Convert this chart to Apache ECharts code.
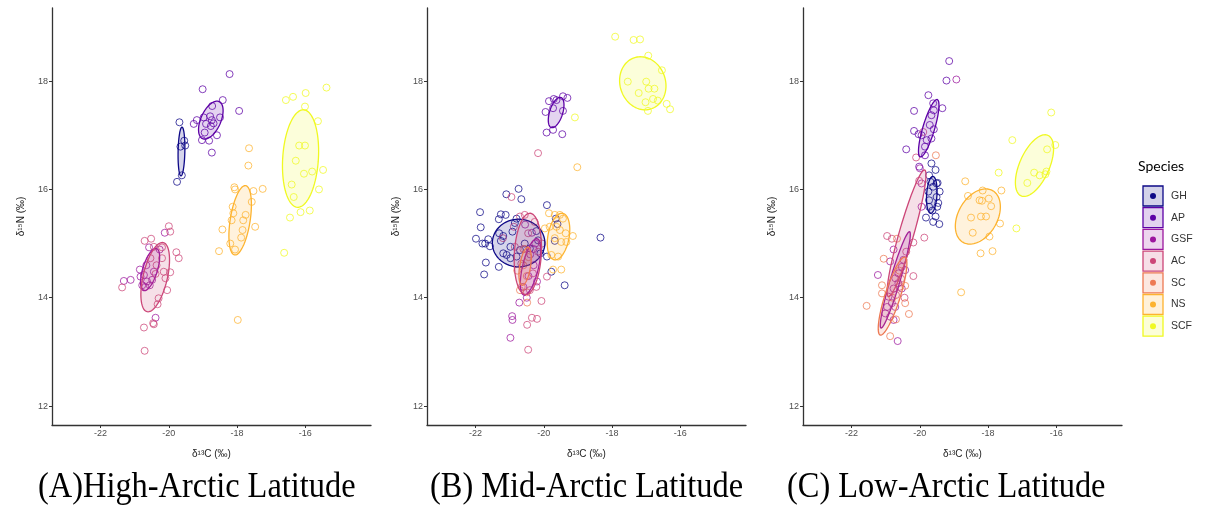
<!DOCTYPE html>
<html><head><meta charset="utf-8">
<script src="https://cdn.jsdelivr.net/npm/echarts@6/dist/echarts.min.js"></script>
<style>html,body{margin:0;padding:0;background:#fff}#c{width:1207px;height:506px}</style>
</head><body><div id="c"></div>
<script>
const species = ['GH','AP','GSF','AC','SC','NS','SCF'];
const colors = ['#0D0887','#5D01A6','#9C179E','#CC4678','#ED7953','#FDB32F','#F0F921'];
const xTicks = [-22,-20,-18,-16];
const yTicks = [12,14,16,18];
const captions = ['(A)High-Arctic Latitude','(B) Mid-Arctic Latitude','(C) Low-Arctic Latitude'];

// ---------- Panel A (High-Arctic) ----------
const A_GH = [[-19.69,17.24],[-19.66,16.79],[-19.55,16.90],[-19.52,16.81],[-19.62,16.26],[-19.76,16.14]];
const A_AP = [[-18.22,18.13],[-19.01,17.85],[-18.42,17.65],[-17.94,17.45],[-18.73,17.54],[-19.27,17.21],[-19.18,17.28],[-18.98,17.33],[-18.91,17.21],[-18.79,17.35],[-18.74,17.28],[-18.77,17.17],[-18.50,17.33],[-18.59,17.00],[-19.03,16.91],[-18.82,16.90],[-18.74,16.68],[-18.95,17.05],[-18.69,17.22]];
const A_GSF = [[-20.12,15.20],[-20.58,14.93],[-20.85,14.52],[-21.32,14.31],[-21.12,14.33],[-20.73,14.42],[-20.64,14.30],[-20.49,14.33],[-20.78,14.23],[-20.69,14.20],[-20.56,14.23],[-20.44,14.48],[-20.39,13.63],[-20.83,14.39],[-20.66,14.60],[-20.27,14.89]];
const A_AC = [[-20.00,15.32],[-19.96,15.22],[-20.71,15.05],[-20.52,15.09],[-20.44,14.94],[-20.20,14.93],[-19.78,14.84],[-19.71,14.73],[-20.54,14.73],[-20.20,14.73],[-19.96,14.47],[-20.15,14.48],[-20.10,14.36],[-20.05,14.14],[-20.30,13.99],[-20.33,13.88],[-20.39,14.44],[-20.36,14.60],[-21.37,14.19],[-20.73,13.45],[-20.44,13.51],[-20.71,13.02],[-20.46,13.53]];
const A_SC = [];
const A_NS = [[-17.65,16.76],[-17.67,16.44],[-18.08,16.04],[-18.06,16.00],[-17.52,15.97],[-17.25,16.01],[-18.13,15.68],[-18.11,15.56],[-17.57,15.77],[-18.16,15.43],[-17.82,15.43],[-17.75,15.53],[-17.84,15.25],[-17.88,15.11],[-17.47,15.31],[-18.43,15.26],[-18.20,15.00],[-18.06,14.89],[-18.53,14.86],[-17.98,13.59]];
const A_SCF = [[-15.38,17.88],[-15.99,17.78],[-16.36,17.71],[-16.57,17.65],[-16.01,17.53],[-15.63,17.26],[-16.18,16.81],[-16.01,16.81],[-16.28,16.53],[-15.48,16.36],[-15.80,16.33],[-16.04,16.29],[-16.40,16.09],[-16.34,15.86],[-15.60,16.00],[-15.87,15.61],[-16.14,15.58],[-16.45,15.48],[-16.62,14.83]];
// ellipse: [centre x, centre y, half-spread x, half-spread y, correlation]
const A_ellipses = [[-19.63,16.70,0.10,0.45,0.15],[-18.77,17.28,0.36,0.35,0.5],[-20.55,14.52,0.28,0.39,0.6],[-20.40,14.38,0.42,0.64,0.5],null,[-17.91,15.43,0.33,0.64,0.45],[-16.14,16.57,0.53,0.90,0.15]];

// ---------- Panel B (Mid-Arctic) ----------
const B_GH = [[-20.74,16.01],[-21.10,15.91],[-20.66,15.82],[-21.87,15.58],[-21.26,15.54],[-21.12,15.53],[-21.32,15.45],[-21.85,15.30],[-21.99,15.09],[-21.80,15.00],[-21.72,15.00],[-21.63,15.08],[-21.58,14.95],[-21.26,15.05],[-21.19,15.14],[-20.92,15.22],[-20.85,15.38],[-20.80,15.46],[-19.91,15.71],[-19.65,15.46],[-19.60,15.36],[-19.68,15.05],[-19.91,14.76],[-21.70,14.65],[-21.32,14.57],[-21.75,14.43],[-21.19,14.82],[-21.09,14.79],[-20.98,14.73],[-20.80,14.76],[-20.70,14.88],[-20.56,15.00],[-20.22,15.23],[-20.17,15.06],[-20.10,14.82],[-19.78,14.48],[-19.39,14.23],[-18.34,15.11],[-20.41,14.91],[-20.98,14.94],[-21.31,15.19]];
const B_AP = [[-19.85,17.63],[-19.71,17.67],[-19.44,17.72],[-19.31,17.69],[-19.95,17.43],[-19.73,17.50],[-19.44,17.45],[-19.92,17.05],[-19.73,17.10],[-19.46,17.02],[-19.63,17.65]];
const B_GSF = [[-20.35,15.20],[-20.25,15.00],[-20.40,14.80],[-20.30,14.60],[-20.45,14.40],[-20.20,14.30],[-20.60,14.20],[-20.50,14.00],[-20.30,14.90],[-20.72,13.91],[-20.93,13.66],[-20.92,13.59],[-20.98,13.26],[-20.55,15.35]];
const B_AC = [[-20.95,15.86],[-20.88,15.31],[-20.46,15.19],[-20.85,14.94],[-20.17,14.85],[-20.32,14.45],[-19.91,14.39],[-20.70,15.50],[-20.56,15.53],[-20.27,15.40],[-20.66,14.63],[-20.22,14.20],[-20.41,14.14],[-20.07,13.94],[-20.17,16.67],[-20.35,13.63],[-20.20,13.61],[-20.49,13.50],[-20.46,13.04],[-20.05,15.00],[-20.60,14.90],[-21.20,15.10]];
const B_SC = [[-20.55,14.90],[-20.60,14.60],[-20.50,14.40],[-20.65,14.20],[-20.78,14.50],[-20.50,14.10],[-20.45,14.75],[-20.70,14.14],[-20.49,13.91]];
const B_NS = [[-19.85,15.56],[-19.68,15.53],[-19.53,15.53],[-19.44,15.46],[-19.97,15.28],[-19.83,15.31],[-19.63,15.31],[-19.53,15.25],[-19.36,15.19],[-19.15,15.14],[-19.68,15.10],[-19.49,15.03],[-19.34,15.03],[-19.78,14.79],[-19.58,14.76],[-19.73,14.52],[-19.49,14.52],[-19.02,16.41]];
const B_SCF = [[-17.91,18.82],[-17.37,18.76],[-17.18,18.77],[-16.94,18.47],[-16.54,18.20],[-17.54,17.99],[-17.00,17.99],[-17.22,17.78],[-16.93,17.86],[-16.76,17.86],[-16.80,17.67],[-17.02,17.61],[-16.66,17.64],[-16.40,17.58],[-16.30,17.48],[-16.95,17.45],[-19.09,17.33]];
const B_ellipses = [[-20.74,15.01,0.77,0.44,0.0],[-19.64,17.42,0.23,0.28,0.5],[-20.39,14.57,0.30,0.52,0.6],[-20.47,14.81,0.40,0.75,0.15],[-20.55,14.58,0.18,0.35,0.45],[-19.57,15.13,0.33,0.43,0.3],[-17.10,17.96,0.68,0.49,-0.1]];

// ---------- Panel C (Low-Arctic) ----------
const C_GH = [[-19.73,16.26],[-19.54,16.36],[-19.66,16.48],[-19.51,16.11],[-19.69,16.14],[-19.61,16.05],[-19.48,16.12],[-19.42,15.96],[-19.75,15.96],[-19.51,15.86],[-19.73,15.80],[-19.46,15.75],[-19.49,15.68],[-19.73,15.68],[-19.63,15.61],[-19.54,15.50],[-19.82,15.48],[-19.61,15.40],[-19.43,15.36]];
const C_AP = [[-19.14,18.37],[-19.22,18.01],[-19.75,17.74],[-20.17,17.45],[-19.34,17.50],[-19.61,17.59],[-19.59,17.46],[-19.66,17.37],[-19.71,17.19],[-19.59,17.11],[-20.17,17.08],[-20.04,17.02],[-19.95,17.00],[-19.80,16.91],[-19.66,16.94],[-19.85,16.79],[-20.40,16.74],[-19.85,16.63],[-20.02,16.42]];
const C_GSF = [[-18.93,18.03],[-19.95,16.11],[-19.95,15.68],[-20.00,16.39],[-20.77,14.89],[-20.87,14.67],[-21.23,14.42],[-20.43,14.51],[-20.53,14.57],[-20.63,14.45],[-20.72,14.36],[-20.63,14.27],[-20.53,14.17],[-20.77,14.17],[-20.92,14.02],[-20.82,13.90],[-20.96,13.83],[-20.72,13.83],[-21.01,13.71],[-20.87,13.65],[-20.77,13.59],[-20.65,13.20],[-20.48,14.70]];
const C_AC = [[-20.96,15.14],[-20.82,15.09],[-19.87,15.11],[-20.19,14.40],[-20.11,16.59],[-19.90,17.06],[-20.19,15.02],[-20.60,14.20],[-20.45,14.00],[-20.55,14.35],[-20.02,16.16],[-20.40,14.85],[-20.70,14.05]];
const C_SC = [[-20.67,15.09],[-21.06,14.72],[-20.43,14.22],[-21.11,14.23],[-21.11,14.08],[-21.56,13.85],[-20.43,13.90],[-20.32,13.70],[-20.87,13.29],[-19.53,16.63],[-20.80,14.00],[-20.70,13.60],[-20.60,14.50]];
const C_NS = [[-18.67,16.15],[-18.59,15.88],[-18.16,15.98],[-18.25,15.80],[-18.18,15.79],[-17.98,15.83],[-17.91,15.69],[-17.61,15.98],[-18.50,15.48],[-18.21,15.50],[-18.06,15.50],[-18.45,15.20],[-17.96,15.13],[-17.65,15.37],[-18.22,14.82],[-17.87,14.86],[-18.79,14.10]];
const C_SCF = [[-16.15,17.42],[-16.03,16.82],[-16.27,16.74],[-17.29,16.91],[-17.69,16.31],[-16.65,16.31],[-16.49,16.26],[-16.32,16.28],[-16.29,16.33],[-16.85,16.12],[-17.17,15.28]];
const C_ellipses = [[-19.65,15.90,0.155,0.34,0.2],[-19.74,17.13,0.30,0.53,0.8],[-20.72,14.33,0.44,0.89,0.94],[-20.39,15.19,0.57,1.17,0.92],[-20.80,14.03,0.42,0.72,0.83],[-18.30,15.50,0.66,0.51,0.35],[-16.64,16.44,0.56,0.57,0.55]];

const panels = [
  {pts:[A_GH,A_AP,A_GSF,A_AC,A_SC,A_NS,A_SCF], ell:A_ellipses},
  {pts:[B_GH,B_AP,B_GSF,B_AC,B_SC,B_NS,B_SCF], ell:B_ellipses},
  {pts:[C_GH,C_AP,C_GSF,C_AC,C_SC,C_NS,C_SCF], ell:C_ellipses}
];

function rgba(hex,a){const n=parseInt(hex.slice(1),16);return `rgba(${n>>16&255},${n>>8&255},${n&255},${a})`;}

const gridLefts = [52,427,803];
const grids=[],xAxes=[],yAxes=[],series=[];
gridLefts.forEach((l,i)=>{
  grids.push({left:l,top:8,width:319,height:417});
  xAxes.push({gridIndex:i,type:'value',min:-23.425,max:-14.075,splitLine:{show:false},
    axisLine:{onZero:false,lineStyle:{color:'#333',width:1.3}},
    axisTick:{customValues:xTicks,length:3,lineStyle:{color:'#333',width:1}},
    axisLabel:{customValues:xTicks,color:'#4D4D4D',fontSize:9,margin:4,fontFamily:'Liberation Sans'},
    name:'δ¹³C (‰)',nameLocation:'middle',nameGap:24,
    nameTextStyle:{color:'#1a1a1a',fontSize:10,fontFamily:'Liberation Sans'}});
  yAxes.push({gridIndex:i,type:'value',min:11.65,max:19.35,splitLine:{show:false},
    axisLine:{onZero:false,lineStyle:{color:'#333',width:1.3}},
    axisTick:{customValues:yTicks,length:3,lineStyle:{color:'#333',width:1}},
    axisLabel:{customValues:yTicks,color:'#4D4D4D',fontSize:9,margin:4,fontFamily:'Liberation Sans'},
    name:'δ¹⁵N (‰)',nameLocation:'middle',nameRotate:90,nameGap:26,
    nameTextStyle:{color:'#1a1a1a',fontSize:10,fontFamily:'Liberation Sans'}});
});

panels.forEach((p,i)=>{
  species.forEach((s,k)=>{
    if(p.pts[k].length) series.push({type:'scatter',name:s,xAxisIndex:i,yAxisIndex:i,data:p.pts[k],
      symbol:'circle',symbolSize:7,silent:true,z:2,
      itemStyle:{color:'rgba(0,0,0,0)',borderColor:colors[k],borderWidth:1,opacity:0.75}});
  });
  species.forEach((s,k)=>{
    const e=p.ell[k]; if(!e) return;
    series.push({type:'custom',name:s+'-ellipse',xAxisIndex:i,yAxisIndex:i,data:[e],silent:true,z:3,
      encode:{x:0,y:1},
      renderItem:(params,api)=>{
        const cx=api.value(0),cy=api.value(1),sx=api.value(2),sy=api.value(3),r=api.value(4);
        const kq=Math.sqrt(1-r*r),pts=[];
        for(let j=0;j<90;j++){const t=j/90*2*Math.PI;
          pts.push(api.coord([cx+sx*Math.cos(t),cy+sy*(r*Math.cos(t)+kq*Math.sin(t))]));}
        return {type:'polygon',shape:{points:pts},style:{fill:rgba(colors[k],0.17),stroke:colors[k],lineWidth:1.3}};
      }});
  });
});

const graphic=[];
graphic.push({type:'text',left:1138,top:159,style:{text:'Species',fill:'#000',font:'14px Lato'}});
species.forEach((s,k)=>{
  const y=186+k*21.7;
  graphic.push({type:'rect',x:1143,y:y,shape:{x:0,y:0,width:20,height:20},style:{fill:rgba(colors[k],0.18),stroke:colors[k],lineWidth:1.3}});
  graphic.push({type:'circle',x:1153,y:y+10,shape:{cx:0,cy:0,r:3},style:{fill:colors[k]}});
  graphic.push({type:'text',x:1171,y:y+10,style:{text:s,fill:'#333',font:'10.5px Liberation Sans',textVerticalAlign:'middle'}});
});
const capX=[38,430,787];
captions.forEach((c,i)=>{
  graphic.push({type:'text',x:capX[i],y:488,scaleX:0.9,style:{text:c,fill:'#000',font:'36px Liberation Serif',textVerticalAlign:'middle'}});
});

const chart=echarts.init(document.getElementById('c'),null,{renderer:'canvas'});
chart.setOption({animation:false,backgroundColor:'#fff',grid:grids,xAxis:xAxes,yAxis:yAxes,series:series,graphic:graphic});
</script></body></html>
